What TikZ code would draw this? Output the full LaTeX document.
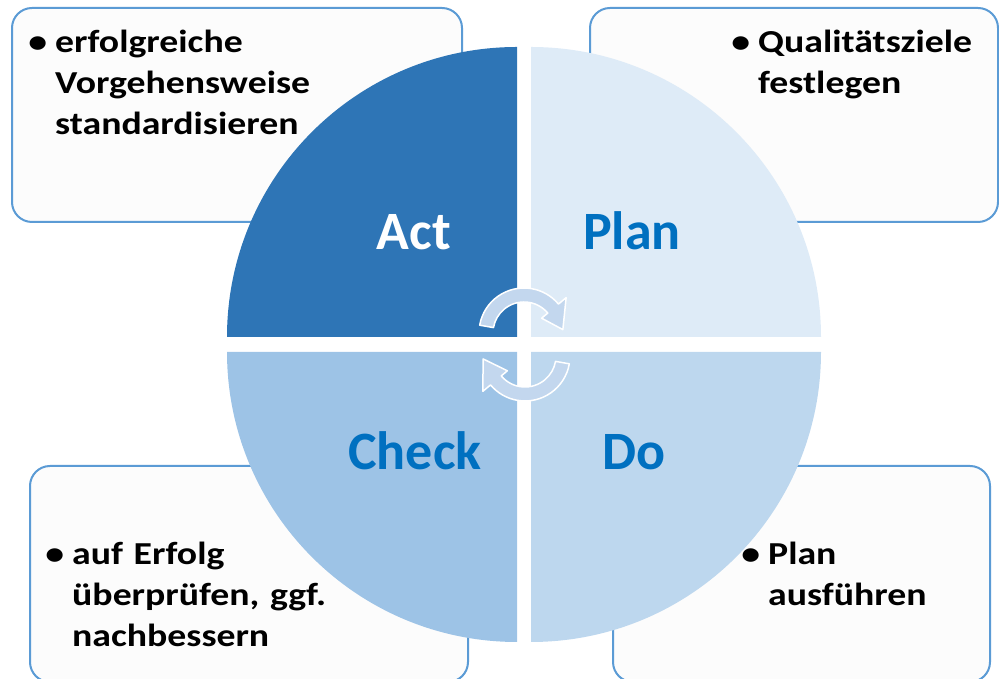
\documentclass[tikz,border=0pt]{standalone}
\usepackage{fontspec}
\setmainfont{Carlito}
\newfontfamily\bodyfont[FakeStretch=1.18]{Carlito}
\definecolor{actc}{HTML}{2E75B6}
\definecolor{planc}{HTML}{DEEBF7}
\definecolor{doc}{HTML}{BDD7EE}
\definecolor{checkc}{HTML}{9DC3E6}
\definecolor{labc}{HTML}{0070C0}
\definecolor{boxb}{HTML}{5B9BD5}
\definecolor{boxf}{HTML}{FCFCFC}
\definecolor{arrc}{HTML}{C3D7EE}
\tikzset{
  infobox/.style={draw=boxb, line width=2pt, fill=boxf, rounded corners=20pt},
  quadlab/.style={font=\fontsize{54}{60}\selectfont\bfseries, anchor=base, inner sep=0pt},
  bodytxt/.style={font=\bodyfont\fontsize{32}{41}\selectfont\bfseries, anchor=base west, inner sep=0pt, text width=300pt, align=left},
  cyclearrow/.style={fill=arrc, draw=white, line width=1.5pt, line join=round}
}
\newcommand{\bul}{\makebox[0pt][r]{\textbullet\hspace{8pt}}}
\begin{document}
\begin{tikzpicture}[x=1pt,y=1pt]
\useasboundingbox (0,0) rectangle (999,679);
\clip (0,0) rectangle (999,679);
% info boxes
\draw[infobox] (12,457) rectangle (462,671);
\draw[infobox] (590,457) rectangle (998,671);
\draw[infobox] (30,-3) rectangle (468,213);
\draw[infobox] (613,-3) rectangle (990,213);
% quadrants
\fill[actc] (517,342) -- ++(-290,0) arc[start angle=180, end angle=90, radius=290] -- cycle;
\fill[planc] (531,342) -- ++(0,290) arc[start angle=90, end angle=0, radius=290] -- cycle;
\fill[doc] (531,327) -- ++(290,0) arc[start angle=0, end angle=-90, radius=290] -- cycle;
\fill[checkc] (517,327) -- ++(0,-290) arc[start angle=270, end angle=180, radius=290] -- cycle;
% quadrant labels
\node[quadlab, text=white] (act) at (414,429) {Act};
\node[quadlab, text=labc] (plan) at (632,429) {Plan};
\node[quadlab, text=labc] (check) at (415,209) {Check};
\node[quadlab, text=labc] (do) at (634,209) {Do};
% cycle arrows
\begin{scope}[shift={(524,346)}]
\path[cyclearrow] (170:45) arc[start angle=170, end angle=40, radius=45] -- (40:55) -- (5:39) -- (40:23) -- (40:31) arc[start angle=40, end angle=170, radius=31] -- cycle;
\end{scope}
\begin{scope}[shift={(525,323)}]
\path[cyclearrow] (-10:45) arc[start angle=-10, end angle=-140, radius=45] -- (-140:55) -- (-176:42) -- (-140:23) -- (-140:31) arc[start angle=-140, end angle=-10, radius=31] -- cycle;
\end{scope}
% texts
\node[bodytxt] (tact) at (55,626) {\bul erfolgreiche\\Vorgehensweise\\standardisieren};
\node[bodytxt] (tplan) at (758,626) {\bul Qualitätsziele\\festlegen};
\node[bodytxt] (tcheck) at (72,114) {\bul auf Erfolg\\überprüfen, ggf.\\nachbessern};
\node[bodytxt] (tdo) at (768,114) {\bul Plan\\ausführen};
\end{tikzpicture}
\end{document}
